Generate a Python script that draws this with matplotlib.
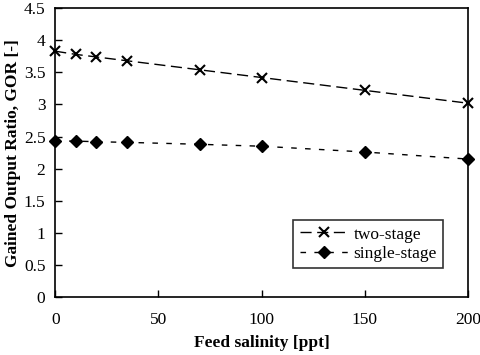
import matplotlib
matplotlib.use('Agg')
import matplotlib.pyplot as plt

salinity = [0, 10, 20, 35, 70, 100, 150, 200]
gor_two_stage = [3.83, 3.78, 3.74, 3.68, 3.54, 3.42, 3.22, 3.02]
gor_single_stage = [2.43, 2.43, 2.42, 2.41, 2.38, 2.35, 2.26, 2.15]

plt.rcParams['font.family'] = ['Liberation Serif', 'DejaVu Serif']

fig = plt.figure(figsize=(4.8, 3.55), dpi=100)
ax = fig.add_axes([0.115, 0.163, 0.86, 0.814])

ax.plot(salinity, gor_two_stage, color='black', linestyle=(0, (8, 4)), linewidth=1,
        marker='x', markersize=7, markeredgewidth=1.5, label='two-stage', clip_on=False)
ax.plot(salinity, gor_single_stage, color='black', linestyle=(0, (4, 6)), linewidth=1,
        marker='D', markersize=6, label='single-stage', clip_on=False)

ax.set_xlim(0, 200)
ax.set_ylim(0, 4.5)
ax.set_xticks([0, 50, 100, 150, 200])
ax.set_yticks([0, 0.5, 1, 1.5, 2, 2.5, 3, 3.5, 4, 4.5])
ax.set_yticklabels(['0', '0.5', '1', '1.5', '2', '2.5', '3', '3.5', '4', '4.5'])
ax.tick_params(direction='in', length=5, width=1, labelsize=12.5, pad=7)
ax.tick_params(axis='x', pad=11)
for s in ax.spines.values():
    s.set_linewidth(1.2)

ax.set_xlabel('Feed salinity [ppt]', fontweight='bold', fontsize=12.5, labelpad=5)
ax.set_ylabel('Gained Output Ratio, GOR [-]', fontweight='bold', fontsize=12.5)
ax.yaxis.set_label_coords(-0.083, 0.5)

leg = ax.legend(loc='lower right', bbox_to_anchor=(0.96, 0.07), frameon=True, fancybox=False,
                edgecolor='black', fontsize=12.5, handlelength=2.8, borderpad=0.35,
                labelspacing=0.2, handletextpad=0.3)
leg.get_frame().set_linewidth(1.2)

fig.savefig('out.png', dpi=100)
